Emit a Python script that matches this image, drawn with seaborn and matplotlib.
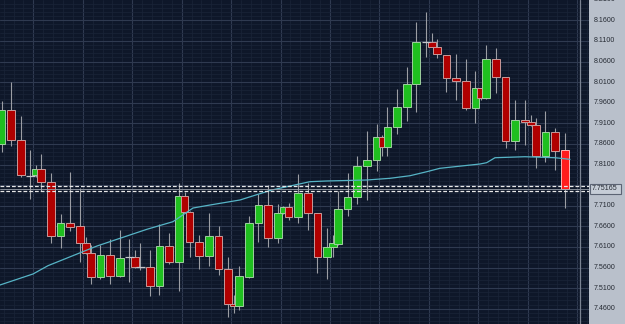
import matplotlib
matplotlib.use("Agg")
import matplotlib.pyplot as plt
import seaborn as sns
import pandas as pd
from matplotlib.patches import Rectangle

# ---------------- data ----------------
weeks = [-1, -1, -1, -1,
         0, 0, 0, 0, 0, 0,
         1, 1, 1, 1, 1, 1,
         2, 2, 2, 2, 2, 2,
         3, 3, 3, 3, 3, 3,
         4, 4, 4, 4, 4, 4,
         5, 5, 5, 5, 5, 5,
         6, 6, 6, 6, 6, 6,
         7, 7, 7, 7, 7, 7,
         8, 8, 8, 8, 8, 8,
         9, 9, 9, 9, 9, 9,
         10, 10, 10, 10, 10]
days = ["Tue", "Wed", "Thu", "Fri"] + ["Sun", "Mon", "Tue", "Wed", "Thu", "Fri"] * 10 + \
       ["Sun", "Mon", "Tue", "Wed", "Thu"]
opens = [7.8591, 7.9423, 7.8695, 7.7833,
         7.7845, 7.7984, 7.7668, 7.6372, 7.6673, 7.6608,
         7.6202, 7.5959, 7.5377, 7.5896, 7.5394, 7.5848,
         7.5848, 7.5605, 7.5620, 7.5151, 7.6129, 7.5741,
         7.7343, 7.6940, 7.6212, 7.5879, 7.6372, 7.5557,
         7.4714, 7.4666, 7.5377, 7.6673, 7.7117, 7.6309,
         7.6916, 7.7062, 7.6819, 7.7401, 7.6916, 7.5862,
         7.6090, 7.6171, 7.7020, 7.7319, 7.8064, 7.8209,
         7.8760, 7.8518, 7.9003, 7.9503, 8.0047, 8.1066,
         8.1066, 8.0945, 8.0758, 8.0193, 8.0127, 7.9479,
         7.9950, 7.9707, 8.0654, 8.0231, 7.8678, 7.9180,
         7.9139, 7.9059, 7.8307, 7.8889, 7.8445]
highs = [7.9649, 8.0110, 7.9277, 7.8452,
         7.8088, 7.8355, 7.7887, 7.6891, 7.7926, 7.7530,
         7.6348, 7.6146, 7.6146, 7.6285, 7.6510, 7.6285,
         7.6025, 7.6202, 7.6025, 7.6649, 7.6430, 7.7659,
         7.7440, 7.6960, 7.6389, 7.6930, 7.6608, 7.5862,
         7.4933, 7.5637, 7.6850, 7.7377, 7.7603, 7.7142,
         7.7100, 7.7173, 7.7870, 7.7659, 7.6930, 7.6552,
         7.6389, 7.7457, 7.7887, 7.8307, 7.8913, 7.9083,
         7.8816, 7.9503, 7.9926, 8.0474, 8.1566, 8.1809,
         8.1285, 8.1139, 8.0760, 8.0775, 8.0654, 8.0377,
         7.9955, 8.1001, 8.0921, 8.0235, 7.9666, 7.9666,
         7.9302, 7.9222, 7.9406, 7.8979, 7.8872]
lows = [7.8411, 7.8557, 7.7804, 7.7256,
        7.7797, 7.7457, 7.6188, 7.6084, 7.6493, 7.5741,
        7.5928, 7.5192, 7.5314, 7.5200, 7.5370, 7.5256,
        7.5581, 7.5540, 7.4908, 7.4933, 7.5678, 7.5037,
        7.6923, 7.5862, 7.5557, 7.5637, 7.5418, 7.4392,
        7.4496, 7.4569, 7.5350, 7.6226, 7.6091, 7.6188,
        7.6890, 7.6753, 7.6673, 7.6511, 7.5459, 7.5314,
        7.5848, 7.6146, 7.6850, 7.7142, 7.7239, 7.7947,
        7.8307, 7.8307, 7.8841, 7.9163, 7.9382, 8.0702,
        8.0950, 8.0678, 7.9867, 7.9666, 7.9423, 7.9100,
        7.9666, 7.9700, 7.9828, 7.8508, 7.8452, 7.8574,
        7.9030, 7.8008, 7.8168, 7.7967, 7.7037]
closes = [7.9423, 7.8695, 7.7845, 7.7828,
          7.7984, 7.7668, 7.6372, 7.6673, 7.6591, 7.6202,
          7.5959, 7.5377, 7.5896, 7.5394, 7.5831, 7.5845,
          7.5605, 7.5602, 7.5151, 7.6129, 7.5741, 7.7343,
          7.6940, 7.6212, 7.5879, 7.6372, 7.5557, 7.4714,
          7.4666, 7.5394, 7.6673, 7.7117, 7.6309, 7.6916,
          7.7062, 7.6814, 7.7401, 7.6916, 7.5862, 7.6090,
          7.6188, 7.7020, 7.7304, 7.8064, 7.8209, 7.8760,
          7.8518, 7.9003, 7.9503, 8.0047, 8.1066, 8.1062,
          8.0960, 8.0775, 8.0193, 8.0127, 7.9479, 7.9950,
          7.9707, 8.0654, 8.0231, 7.8678, 7.9180, 7.9139,
          7.9059, 7.8307, 7.8889, 7.8435, 7.75165]

# moving average (sampled along its path: time in bar units, value)
ma_time = [-3.45, -0.03, 1.52, 6.60, 11.78, 14.47, 16.55, 18.31, 21.42, 24.70,
           28.67, 30.40, 34.55, 36.96, 39.04, 40.77, 42.14, 46.28, 46.98, 47.85,
           50.95, 54.06, 55.62]
ma_value = [7.5176, 7.5443, 7.5644, 7.6122, 7.6528, 7.6712, 7.7044, 7.7117, 7.7239, 7.7481,
            7.7683, 7.7700, 7.7724, 7.7765, 7.7828, 7.7925, 7.8008, 7.8112, 7.8144, 7.8265,
            7.8289, 7.8265, 7.8226]

price_levels = [8.21, 8.16, 8.11, 8.06, 8.01, 7.96, 7.91, 7.86, 7.81, 7.76,
                7.71, 7.66, 7.61, 7.56, 7.51, 7.46]
hidden_level = 7.76          # covered by the last-price box in the reference
last_price = 7.75165
ask_price = 7.7578
bid_price = 7.7457

# ---------------- layout / style ----------------
WEEK_LEN = 5.124
DAY_OFFSET = {"Sun": 0.31, "Mon": 0.83, "Tue": 1.83, "Wed": 2.83, "Thu": 3.83, "Fri": 4.83}
XLIM = (-3.45, 57.59)
YLIM = (7.4229, 8.2093)
BG = "#0e1729"
PANEL = "#b9c0cb"
UP = "#1fbf1f"
DOWN = "#b00000"
LAST = "#ff1c1c"

sns.set_theme(style="dark", rc={"axes.facecolor": BG, "figure.facecolor": PANEL})
plt.rcParams["font.family"] = ["Liberation Sans", "DejaVu Sans"]

df = pd.DataFrame({"week": weeks, "day": days, "open": opens, "high": highs,
                   "low": lows, "close": closes})
df["t"] = df["week"] * WEEK_LEN + df["day"].map(DAY_OFFSET)
df["body_lo"] = df[["open", "close"]].min(axis=1)
df["body_h"] = (df["close"] - df["open"]).abs()
df["doji"] = df["body_h"] < 0.0008

fig = plt.figure(figsize=(6.25, 3.24), dpi=100)
ax = fig.add_axes([0, 0, 589 / 625, 1])

# wicks
ax.vlines(df["t"], df["low"], df["high"], color="#9c9ea4", lw=0.8, zorder=2)

# bodies
body = df[~df["doji"]]
colors = [UP if c > o else DOWN for o, c in zip(body["open"], body["close"])]
edges = ["#9fd09f" if c > o else "#c99a9a" for o, c in zip(body["open"], body["close"])]
colors[-1] = LAST
edges[-1] = "#ffb4b4"
ax.bar(body["t"], body["body_h"], bottom=body["body_lo"], width=0.8,
       color=colors, edgecolor=edges, lw=0.7, zorder=3)
dj = df[df["doji"]]
ax.hlines(dj["close"], dj["t"] - 0.45, dj["t"] + 0.45, color="#c4c6cc", lw=0.9, zorder=3)

# moving average
sns.lineplot(x=ma_time, y=ma_value, ax=ax, color="#56b4c6", lw=0.9, zorder=4)

# price lines
ax.axhline(ask_price, color="#e8e8e8", lw=0.9, ls=(0, (3, 1.6)), zorder=5)
ax.axhline(bid_price, color="#e8e8e8", lw=0.9, ls=(0, (3, 1.6)), zorder=5)
ax.axhline(last_price, color="#9aa0aa", lw=0.6, zorder=5)
ax.plot([0.985, 0.985], [0, 1], transform=ax.transAxes, color="#7b8392", lw=0.9, zorder=5)

# limits and grid (after plotting so nothing autoscales them)
ax.set_xlim(*XLIM)
ax.set_ylim(*YLIM)
wk = [k * WEEK_LEN for k in range(-1, 12)]
ax.set_xticks(wk)
ax.set_xticks([k * WEEK_LEN + j * WEEK_LEN / 5 for k in range(-1, 12) for j in range(1, 5)], minor=True)
ax.set_yticks(price_levels)
ax.set_yticks([7.42 + 0.01 * i for i in range(80)], minor=True)
ax.set_xlim(*XLIM)
ax.set_ylim(*YLIM)
ax.grid(which="major", color="#2f3a50", lw=0.8)
ax.grid(which="minor", color="#1a2438", lw=0.5)
ax.set_axisbelow(True)
ax.tick_params(which="both", length=0, labelbottom=False, labelleft=False)
ax.set_xlabel("")
ax.set_ylabel("")
for s in ax.spines.values():
    s.set_visible(False)

# right price scale
ytr = ax.get_yaxis_transform()
for lv in price_levels:
    if abs(lv - hidden_level) < 1e-9:
        continue
    ax.text(1.0085, lv, f"{lv:.4f}", transform=ytr, ha="left", va="center",
            fontsize=5.1, color="#252a33", clip_on=False)

# last price box
disp = ax.transData.transform((0, last_price))[1]
yfig = disp / fig.bbox.height
box_h = 10 / 324
fig.patches.append(Rectangle((589.5 / 625, yfig - box_h / 2), 31 / 625, box_h,
                             transform=fig.transFigure, facecolor="#c6cdd7",
                             edgecolor="#5c6474", lw=0.8, zorder=10))
fig.text(605 / 625, yfig, f"{last_price:.5f}", ha="center", va="center",
         fontsize=5.1, color="#252a33", zorder=11)

fig.savefig("out.png", dpi=100, facecolor=fig.get_facecolor())
